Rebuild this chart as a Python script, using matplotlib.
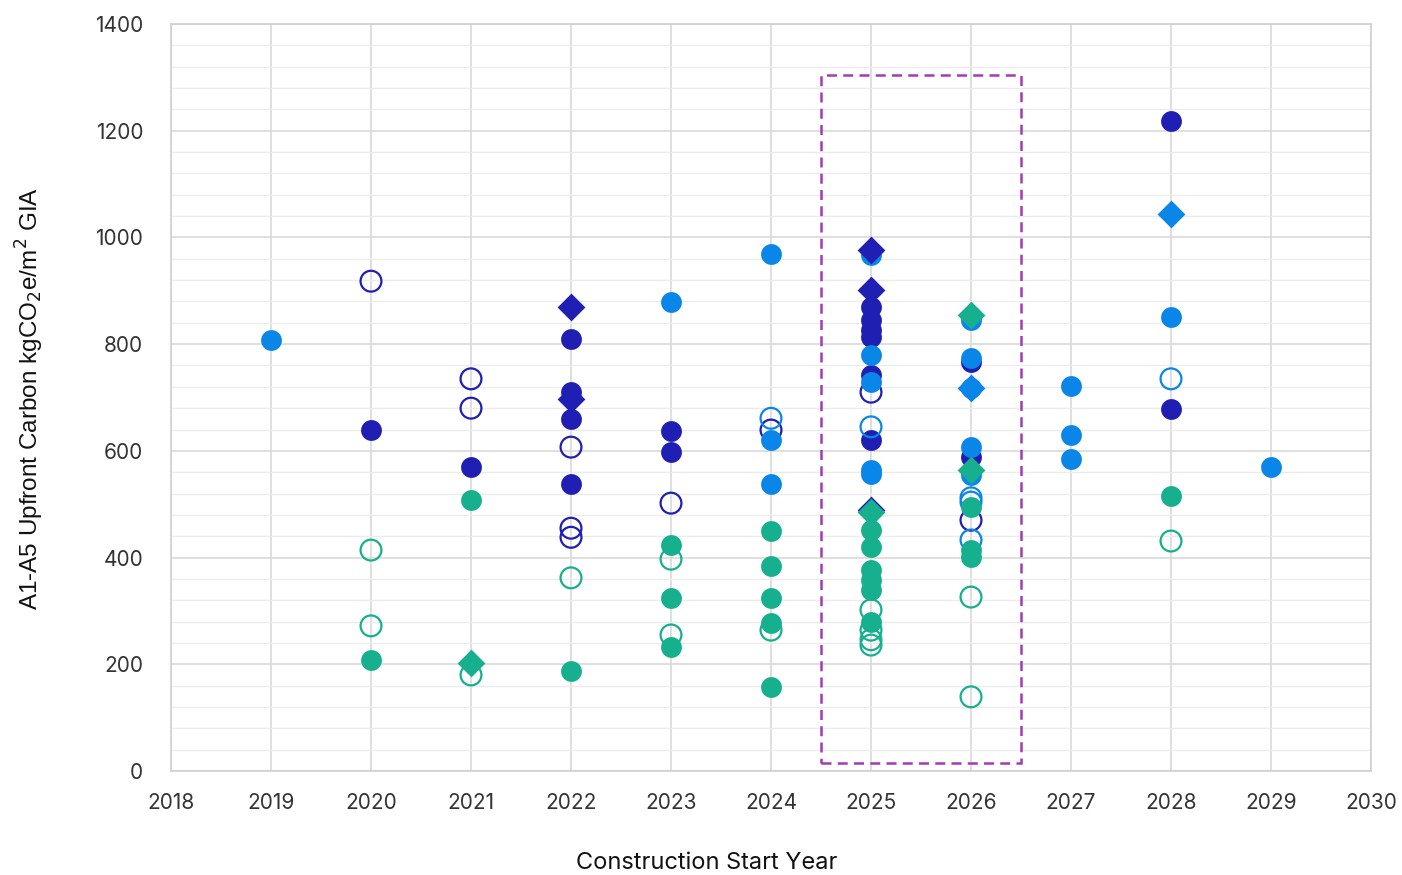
import matplotlib.pyplot as plt
from matplotlib.patches import Rectangle
from matplotlib.ticker import MultipleLocator

# colours
dark = '#1f1fb4'
light = '#0a86e8'
teal = '#17b08f'

# dark blue series
dark_fill_x = [2020, 2021, 2022, 2022, 2022, 2022, 2023, 2023,
               2025, 2025, 2025, 2025, 2025, 2025, 2026, 2026, 2028, 2028]
dark_fill_y = [639, 570, 810, 710, 660, 538, 637, 598,
               870, 845, 826, 814, 742, 620, 767, 588, 1218, 678]
dark_open_x = [2020, 2021, 2021, 2022, 2022, 2022, 2023, 2024, 2025, 2026]
dark_open_y = [918, 735, 680, 607, 455, 438, 502, 639, 710, 470]
dark_dia_x = [2022, 2022, 2025, 2025, 2025]
dark_dia_y = [870, 698, 976, 901, 489]

# light blue series
light_fill_x = [2019, 2023, 2024, 2024, 2024, 2025, 2025, 2025, 2025, 2025,
                2026, 2026, 2026, 2026, 2026, 2027, 2027, 2027, 2028, 2029]
light_fill_y = [808, 879, 969, 620, 538, 967, 780, 729, 564, 556,
                845, 774, 718, 607, 555, 722, 630, 585, 851, 570]
light_open_x = [2024, 2025, 2026, 2026, 2026, 2028]
light_open_y = [661, 645, 512, 504, 433, 735]
light_dia_x = [2026, 2028]
light_dia_y = [718, 1044]

# teal series
teal_fill_x = [2020, 2021, 2022, 2023, 2023, 2023, 2024, 2024, 2024, 2024, 2024,
               2025, 2025, 2025, 2025, 2025, 2025, 2026, 2026, 2026, 2028]
teal_fill_y = [208, 508, 187, 424, 324, 232, 450, 384, 324, 277, 157,
               452, 420, 377, 358, 339, 279, 495, 414, 401, 515]
teal_open_x = [2020, 2020, 2021, 2022, 2023, 2023, 2024,
               2025, 2025, 2025, 2025, 2026, 2026, 2028]
teal_open_y = [414, 272, 180, 362, 397, 255, 264,
               302, 264, 246, 236, 326, 139, 431]
teal_dia_x = [2021, 2025, 2026, 2026]
teal_dia_y = [202, 485, 855, 564]

plt.rcParams['font.family'] = ['Inter', 'DejaVu Sans']

fig = plt.figure(figsize=(14.02, 8.75), dpi=100)
ax = fig.add_axes([171/1402, 1 - 771/875, 1200/1402, 747/875])

ms = 225
ds = 200
lw_open = 1.6
# the half-hidden 2022 diamond sits under the circles
ax.scatter(dark_dia_x[1:2], dark_dia_y[1:2], s=ds, marker='D', color=dark, linewidths=0, zorder=2.5)
ax.scatter(dark_open_x, dark_open_y, s=ms, facecolors='none', edgecolors=dark, linewidths=lw_open, zorder=3)
ax.scatter(dark_fill_x, dark_fill_y, s=ms, color=dark, linewidths=0, zorder=3)
ax.scatter(light_open_x, light_open_y, s=ms, facecolors='none', edgecolors=light, linewidths=lw_open, zorder=3)
ax.scatter(light_fill_x, light_fill_y, s=ms, color=light, linewidths=0, zorder=3)
ax.scatter(teal_open_x, teal_open_y, s=ms, facecolors='none', edgecolors=teal, linewidths=lw_open, zorder=3)
ax.scatter(teal_fill_x, teal_fill_y, s=ms, color=teal, linewidths=0, zorder=3)
ax.scatter(dark_dia_x[:1] + dark_dia_x[2:], dark_dia_y[:1] + dark_dia_y[2:], s=ds, marker='D',
           color=dark, linewidths=0, zorder=4)
ax.scatter(light_dia_x, light_dia_y, s=ds, marker='D', color=light, linewidths=0, zorder=4)
ax.scatter(teal_dia_x, teal_dia_y, s=ds, marker='D', color=teal, linewidths=0, zorder=4)

# highlight box around 2025-2026
ax.add_patch(Rectangle((2024.5, 15), 2.0, 1289, fill=False, edgecolor='#a23bb5',
                       linestyle=(0, (4, 2.5)), linewidth=1.8, zorder=5))

ax.set_xlim(2018, 2030)
ax.set_ylim(0, 1400)
ax.xaxis.set_major_locator(MultipleLocator(1))
ax.yaxis.set_major_locator(MultipleLocator(200))
ax.yaxis.set_minor_locator(MultipleLocator(40))
ax.grid(which='major', axis='both', color='#d9d9d9', linewidth=1.2, zorder=0)
ax.grid(which='minor', axis='y', color='#ececec', linewidth=1.0, zorder=0)
ax.set_axisbelow(True)
for sp in ax.spines.values():
    sp.set_color('#d0d0d0')
    sp.set_linewidth(1.2)
ax.tick_params(which='both', length=0, labelsize=15, labelcolor='#333333')
ax.tick_params(axis='y', pad=20)
ax.tick_params(axis='x', pad=16)

fig.text(707/1402, 1 - 863/875, 'Construction Start Year', fontsize=17,
         ha='center', va='center', color='#111111')
fig.text(30/1402, 1 - 398/875, 'A1-A5 Upfront Carbon kgCO$_2$e/m$^2$ GIA', fontsize=17.5,
         family='Liberation Sans', rotation=90, ha='center', va='center', color='#111111')

fig.savefig('out.png', dpi=100)
